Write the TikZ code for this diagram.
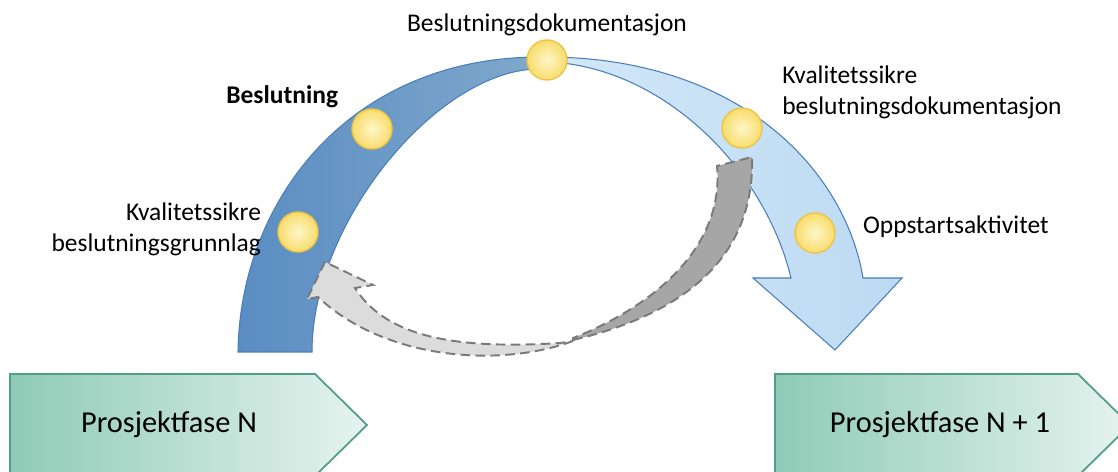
\documentclass[tikz,border=0pt]{standalone}
\usepackage{fontspec}
\setmainfont{Carlito}
\usepackage{tikz}
\usetikzlibrary{positioning}

\definecolor{mork}{HTML}{5A8DC2}
\definecolor{morklys}{HTML}{80A8CC}
\definecolor{lys}{HTML}{D3E8F8}
\definecolor{lysmork}{HTML}{BCDAF2}
\definecolor{kant}{HTML}{4A7EBB}
\definecolor{gullinn}{HTML}{FFF6C8}
\definecolor{gullut}{HTML}{F8DC6C}
\definecolor{gullkant}{HTML}{EDC542}
\definecolor{fasev}{HTML}{8ECBB7}
\definecolor{faseh}{HTML}{E6F3EF}
\definecolor{fasekant}{HTML}{4F9E88}
\definecolor{graalys}{HTML}{DCDCDC}
\definecolor{graamork}{HTML}{A6A6A6}
\definecolor{stiplet}{HTML}{7A7A7A}

\begin{document}
\begin{tikzpicture}[x=0.02cm, y=-0.02cm,
    punkt/.style={circle, minimum size=0.8cm, inner sep=0pt, draw=gullkant, line width=0.8pt, inner color=gullinn, outer color=gullut},
    etikett/.style={inner sep=0pt, font=\fontsize{14.5}{17.5}\selectfont},
    fasetekst/.style={inner sep=0pt, font=\fontsize{17.3}{20}\selectfont},
    fase/.style={draw=fasekant, line width=1pt, left color=fasev, right color=faseh},
    retur/.style={draw=stiplet, line width=1.1pt, dash pattern=on 5.5pt off 3pt}]
    \useasboundingbox (0,0) rectangle (1118,472);
    \clip (0,0) rectangle (1118,472);

    % fasene
    \path[fase] (10,374) -- (315,374) -- (367,425) -- (315,476) -- (10,476) -- cycle;
    \path[fase] (775,374) -- (1078,374) -- (1130,425) -- (1078,476) -- (775,476) -- cycle;
    \node[fasetekst] (fase_n) at (169,425) {Prosjektfase N};
    \node[fasetekst] (fase_n1) at (940,425) {Prosjektfase N + 1};

    % buen
    \path[draw=kant, line width=0.6pt, left color=mork, right color=morklys]
        (238,352) .. controls (240,200) and (350,57) .. (540,57)
        -- (540,69) .. controls (440,68) and (312,220) .. (312,352) -- cycle;
    \path[draw=kant, line width=0.6pt, left color=lys, right color=lysmork]
        (545,57) .. controls (740,57) and (845,170) .. (863,278)
        -- (902,278) -- (835,350) -- (753,278) -- (791,278)
        .. controls (765,170) and (665,68) .. (550,62) -- cycle;

    % tilbake
    \path[retur, fill=graamork]
        (573,340) .. controls (680,315) and (755,260) .. (752,157)
        -- (717,166) .. controls (725,255) and (640,312) .. (573,338) -- cycle;
    \path[retur, fill=graalys]
        (573,341) .. controls (500,368) and (385,360) .. (318,297)
        -- (307,299) -- (325,262) -- (373,285) -- (355,288)
        .. controls (385,335) and (450,350) .. (560,343) -- cycle;

    \node[punkt] (grunnlag) at (298,232) {};
    \node[punkt] (beslutning) at (372,129) {};
    \node[punkt] (dok) at (547,60) {};
    \node[punkt] (kvaldok) at (742,128) {};
    \node[punkt] (oppstart) at (815,233) {};

    \node[etikett] (t_dok) [above = 0.06cm of dok] {Beslutningsdokumentasjon};
    \node[etikett, font=\fontsize{14.5}{17.5}\selectfont\bfseries] (t_beslutning) [above left = 0.12cm and 0.38cm of beslutning] {Beslutning};
    \node[etikett, align=right] (t_grunnlag) [left = 0.32cm of grunnlag, yshift=0.06cm] {Kvalitetssikre\\beslutningsgrunnlag};
    \node[etikett, align=left, anchor=west] (t_kvaldok) at (782,92) {Kvalitetssikre\\beslutningsdokumentasjon};
    \node[etikett] (t_oppstart) [right = 0.54cm of oppstart, yshift=0.12cm] {Oppstartsaktivitet};
\end{tikzpicture}
\end{document}
